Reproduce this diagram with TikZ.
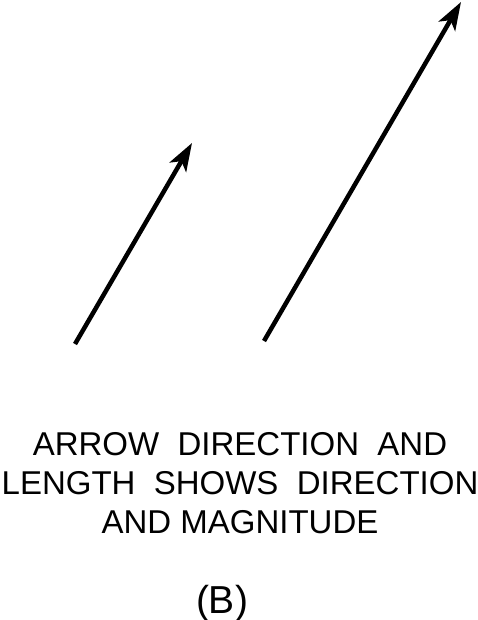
\documentclass[tikz,border=0pt]{standalone}
\usepackage{fontspec}
\setmainfont{Liberation Sans}
\usetikzlibrary{arrows.meta,positioning,calc}

\begin{document}
\begin{tikzpicture}[x=1pt,y=-1pt,vec/.style={line width=4.5pt,-{Stealth[length=28pt,width=19pt,inset=7pt]}}]
    \useasboundingbox (0,0) rectangle (478,620);
    \coordinate(a0) at (75,344);
    \coordinate(a1) at (192,143);
    \coordinate(b0) at (264,341);
    \coordinate(b1) at (461,2);
    \path(a0)[vec]edge(a1);
    \path(b0)[vec]edge(b1);
    \node[align=center,font=\fontsize{33}{39}\selectfont,anchor=base](txt) at (240,533)
        {ARROW\ \ DIRECTION\ \ AND\\LENGTH\ \ SHOWS\ \ DIRECTION\\AND MAGNITUDE};
    \node[font=\fontsize{39}{44}\selectfont,anchor=base](lbl) at (222,613){(B)};
\end{tikzpicture}
\end{document}
